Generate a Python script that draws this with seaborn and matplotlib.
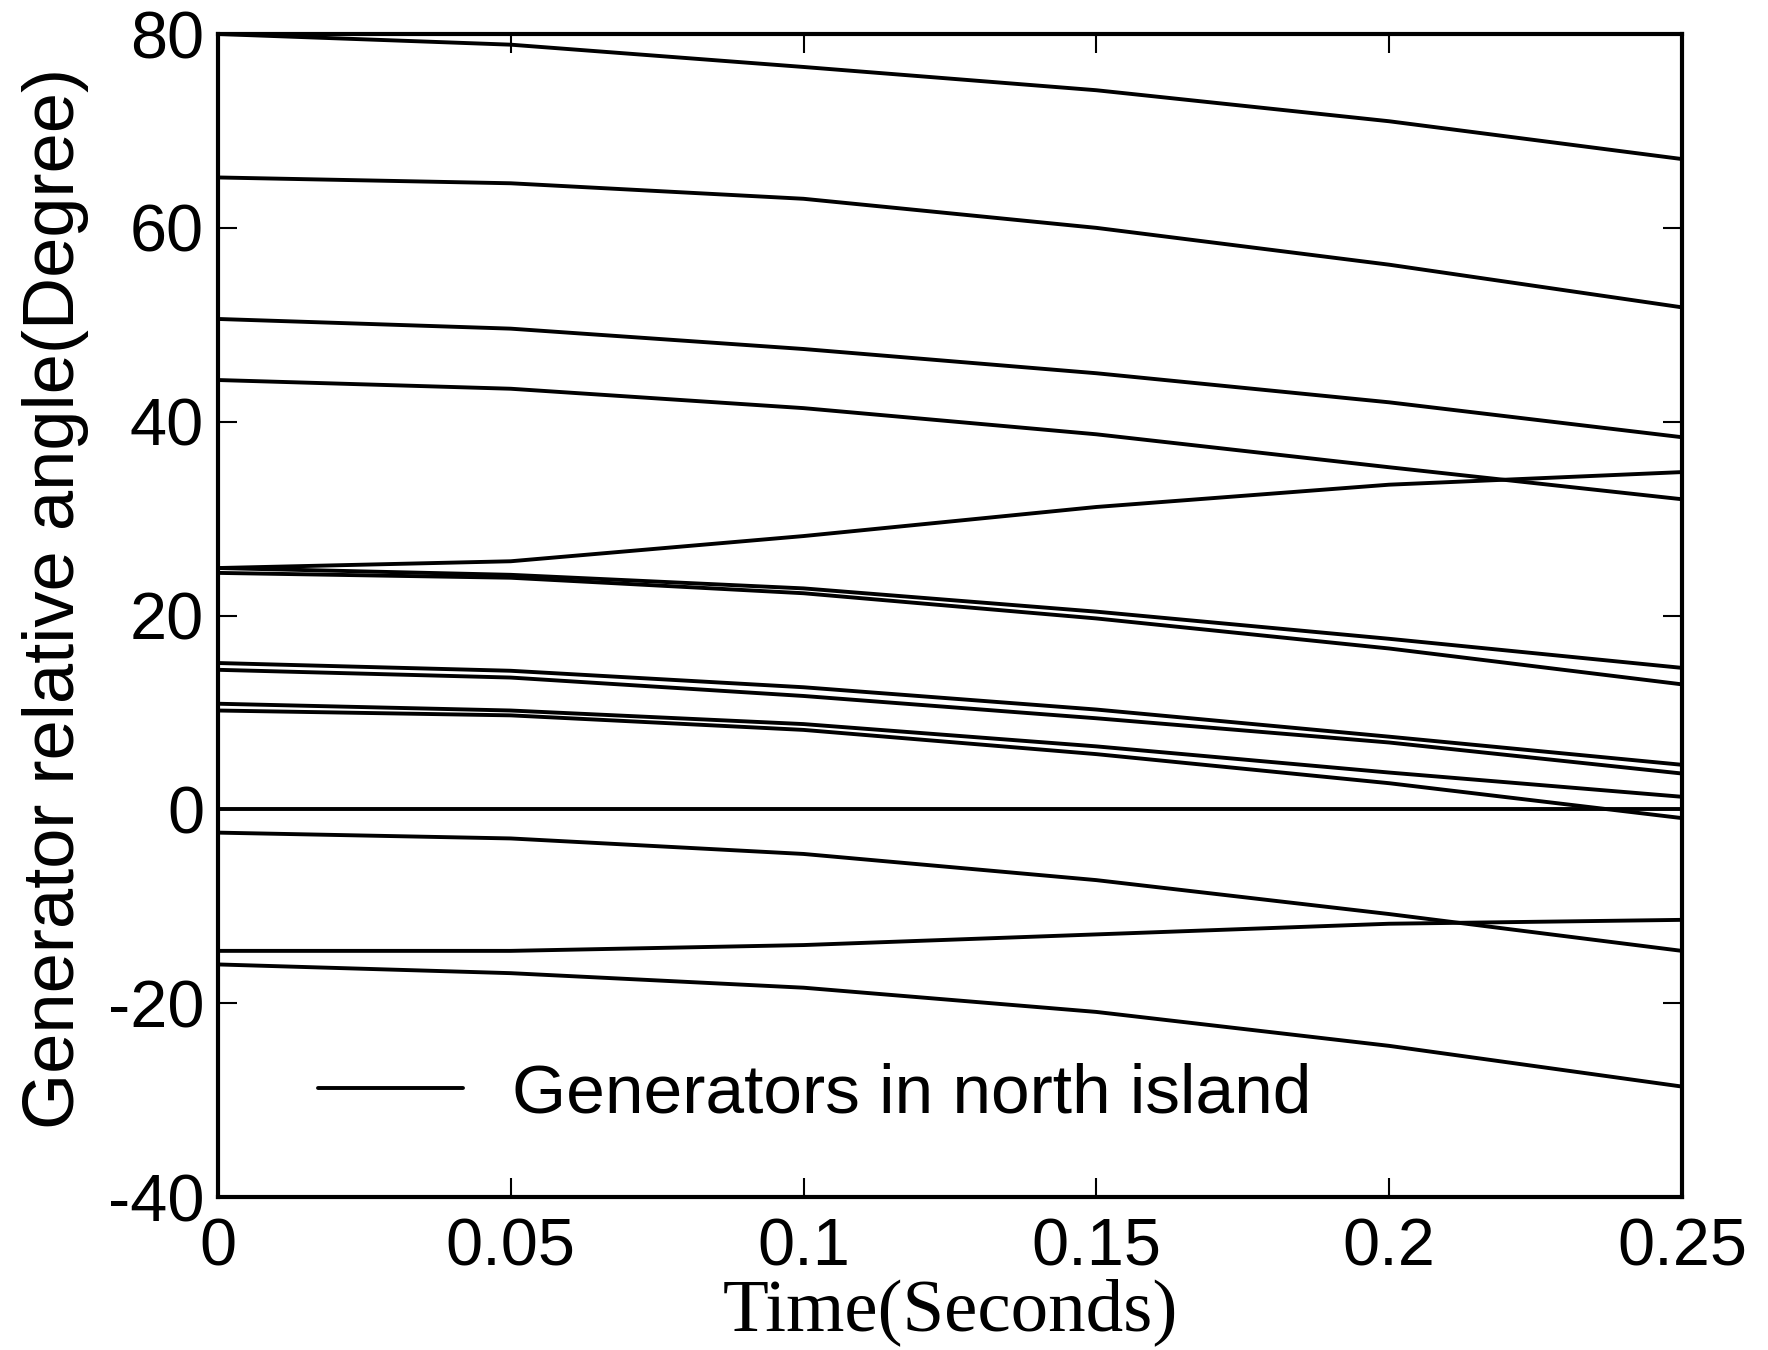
import matplotlib
matplotlib.use("Agg")
import matplotlib.pyplot as plt
import pandas as pd
import seaborn as sns
from matplotlib.lines import Line2D

# Tempo de simulação (s) e ângulos relativos (graus)
time_s = [0.0, 0.05, 0.10, 0.15, 0.20, 0.25]

gen_01 = [80.0, 78.9, 76.6, 74.2, 71.0, 67.1]
gen_02 = [65.2, 64.6, 63.0, 60.0, 56.2, 51.8]
gen_03 = [50.6, 49.6, 47.5, 45.0, 42.0, 38.4]
gen_04 = [44.3, 43.4, 41.4, 38.7, 35.3, 32.0]
gen_05 = [24.9, 25.6, 28.2, 31.2, 33.5, 34.8]
gen_06 = [24.9, 24.2, 22.8, 20.4, 17.6, 14.6]
gen_07 = [24.4, 23.9, 22.3, 19.7, 16.6, 12.9]
gen_08 = [15.1, 14.3, 12.6, 10.3, 7.5, 4.6]
gen_09 = [14.4, 13.6, 11.7, 9.4, 6.9, 3.7]
gen_10 = [10.9, 10.2, 8.8, 6.5, 3.8, 1.3]
gen_11 = [10.2, 9.7, 8.2, 5.7, 2.7, -0.9]
gen_12 = [0.0, 0.0, 0.0, 0.0, 0.0, 0.0]
gen_13 = [-2.4, -3.0, -4.6, -7.3, -10.8, -14.6]
gen_14 = [-14.6, -14.6, -14.0, -12.9, -11.8, -11.4]
gen_15 = [-16.0, -16.9, -18.4, -20.9, -24.4, -28.6]

series = [gen_01, gen_02, gen_03, gen_04, gen_05, gen_06, gen_07, gen_08,
          gen_09, gen_10, gen_11, gen_12, gen_13, gen_14, gen_15]

y_ticks = [-40, -20, 0, 20, 40, 60, 80]
x_ticks = [0.0, 0.05, 0.10, 0.15, 0.20, 0.25]
x_tick_labels = ["0", "0.05", "0.1", "0.15", "0.2", "0.25"]

legend_label = "Generators in north island"
x_label = "Time(Seconds)"
y_label = "Generator relative angle(Degree)"

# monta DataFrame longo
linhas = []
for i, valores in enumerate(series):
    for t, a in zip(time_s, valores):
        linhas.append({"time": t, "angle": a, "gen": i})
df = pd.DataFrame(linhas)

sns.set_style("ticks")
plt.rcParams["font.family"] = ["Liberation Sans", "DejaVu Sans"]
plt.rcParams["text.color"] = "black"
plt.rcParams["axes.labelcolor"] = "black"

fig = plt.figure(figsize=(17.68, 13.5), dpi=100)
ax = fig.add_axes([0.1233, 0.1133, 0.828, 0.8615])

sns.lineplot(data=df, x="time", y="angle", units="gen", estimator=None,
             color="black", linewidth=2.8, ax=ax, legend=False)

ax.set_xlim(0, 0.25)
ax.set_ylim(-40, 80)
ax.set_xticks(x_ticks)
ax.set_xticklabels(x_tick_labels, fontsize=48)
ax.set_yticks(y_ticks)
ax.set_yticklabels([str(v) for v in y_ticks], fontsize=48)
ax.tick_params(direction="in", length=14, width=1.5, top=True, right=True,
               colors="black")
ax.tick_params(axis="x", pad=15)
ax.tick_params(axis="y", pad=10)

for sp in ax.spines.values():
    sp.set_linewidth(3)
    sp.set_color("black")

ax.set_xlabel(x_label, fontsize=54, family=["Liberation Serif", "DejaVu Serif"],
              labelpad=-1, color="black")
ax.set_ylabel(y_label, fontsize=52, color="black")
ax.yaxis.set_label_coords(-0.088, 0.515)

handle = Line2D([], [], color="black", linewidth=2.8)
leg = ax.legend([handle], [legend_label], loc="center left",
                bbox_to_anchor=(0.068, 0.0886), frameon=False, fontsize=50,
                handlelength=2.1, handletextpad=0.7, borderpad=0, borderaxespad=0)
for txt in leg.get_texts():
    txt.set_color("black")

fig.savefig("out.png", dpi=100)
